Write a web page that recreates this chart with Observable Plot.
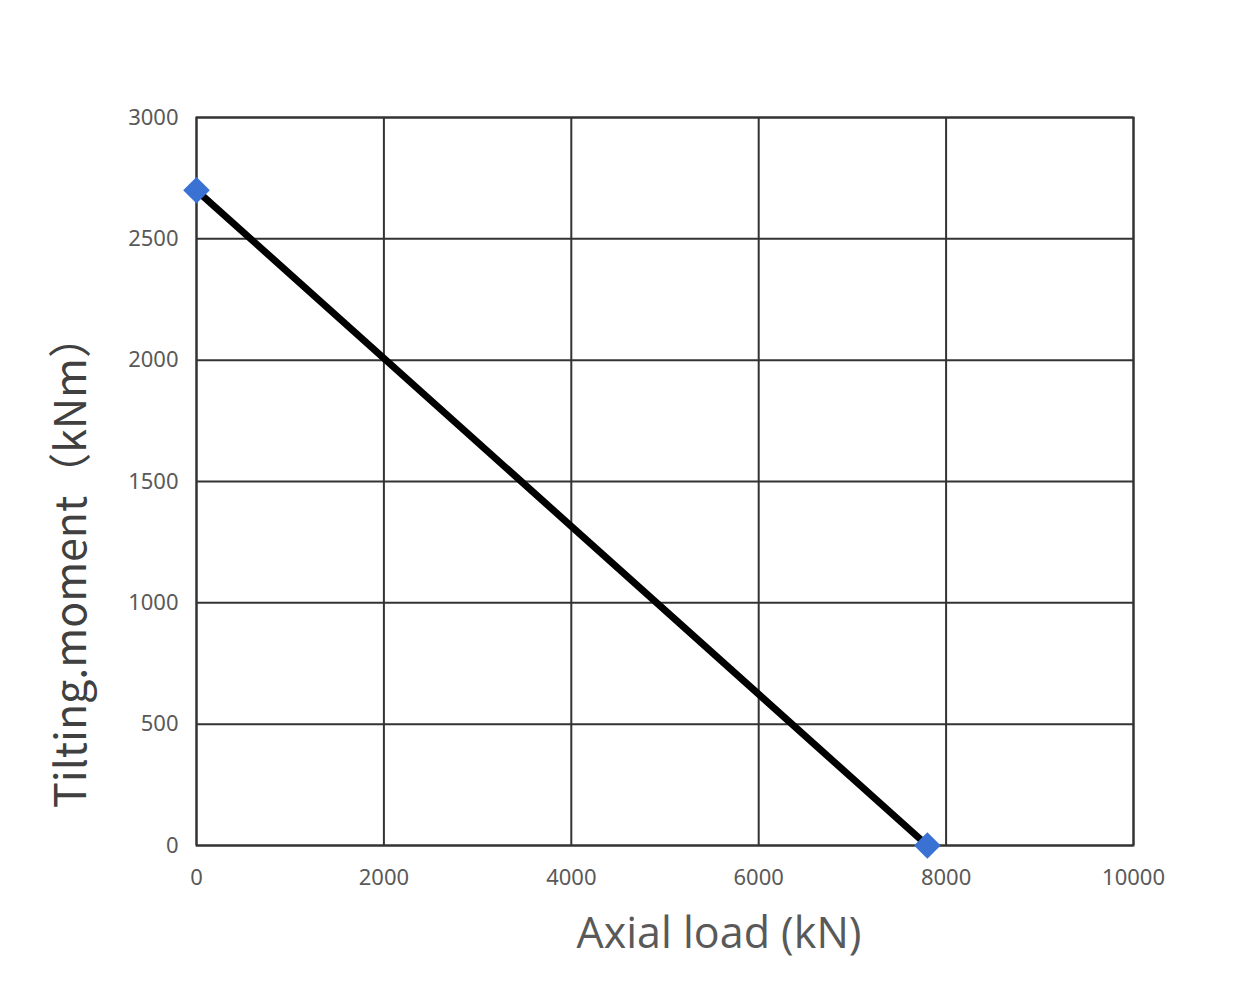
<!DOCTYPE html>
<html><head><meta charset="utf-8">
<script src="https://cdn.jsdelivr.net/npm/d3@7"></script>
<script src="https://cdn.jsdelivr.net/npm/@observablehq/plot@0.6"></script>
<style>
html,body{margin:0;padding:0;background:#fff;}
</style>
</head><body>
<div id="chart"></div>
<script>
const axialLoad = [0, 7800];
const tiltingMoment = [2700, 0];
const xTicks = [0, 2000, 4000, 6000, 8000, 10000];
const yTicks = [0, 500, 1000, 1500, 2000, 2500, 3000];
const xLabel = "Axial load (kN)";
const yLabel = "Tilting.moment（kNm）";

const data = axialLoad.map((x, i) => ({x, y: tiltingMoment[i]}));

const chart = Plot.plot({
  width: 1260,
  height: 990,
  marginLeft: 196,
  marginRight: 127,
  marginTop: 117,
  marginBottom: 145,
  style: {fontFamily: "'Noto Sans', sans-serif", background: "#fff"},
  x: {domain: [0, 10000], ticks: xTicks},
  y: {domain: [0, 3000], ticks: yTicks},
  marks: [
    Plot.gridX(xTicks, {stroke: "#333", strokeOpacity: 1, strokeWidth: 2}),
    Plot.gridY(yTicks, {stroke: "#333", strokeOpacity: 1, strokeWidth: 2}),
    Plot.frame({stroke: "#333", strokeWidth: 2}),
    Plot.axisX(xTicks, {tickSize: 0, tickPadding: 24, fontSize: 22, fill: "#595959", label: null, tickFormat: d => String(d)}),
    Plot.axisY(yTicks, {tickSize: 0, tickPadding: 18, fontSize: 22, fill: "#595959", label: null, tickFormat: d => String(d)}),
    Plot.line(data, {x: "x", y: "y", stroke: "#000", strokeWidth: 7}),
    Plot.dot(data, {x: "x", y: "y", symbol: "diamond2", r: 12, fill: "#3A72D4", stroke: "none"}),
    Plot.text([xLabel], {frameAnchor: "bottom", dx: 54, dy: 102, fontSize: 43, fill: "#595959", fontFamily: "'Open Sans', sans-serif", textAnchor: "middle"}),
    Plot.text([yLabel], {frameAnchor: "left", dx: -124, dy: 80, rotate: -90, fontSize: 43, fill: "#404040", fontFamily: "'Noto Sans CJK SC', sans-serif", textAnchor: "middle"})
  ]
});
document.getElementById("chart").appendChild(chart);
</script>
</body></html>
